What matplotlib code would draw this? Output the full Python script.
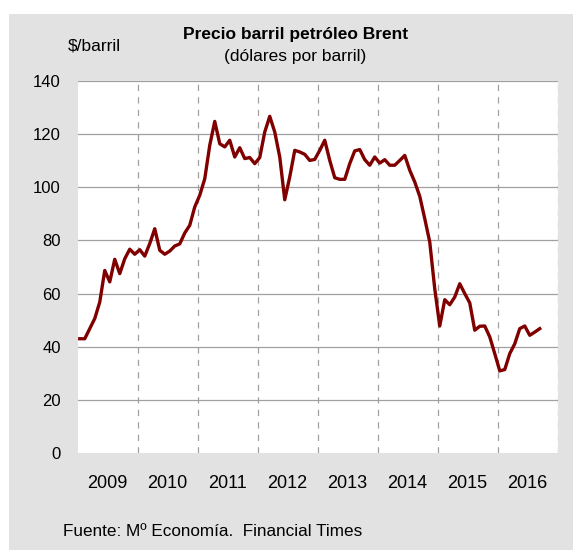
import matplotlib.pyplot as plt
from matplotlib.patches import Rectangle
from matplotlib.ticker import FixedLocator

plt.rcParams['font.family'] = ['Liberation Sans', 'DejaVu Sans']

# monthly Brent price, Jan 2009 .. Sep 2016
brent_2009 = [43.0, 43.0, 46.8, 50.6, 56.8, 68.7, 64.4, 72.9, 67.5, 73.1, 76.7, 74.8]
brent_2010 = [76.5, 74.1, 78.8, 84.4, 76.3, 74.8, 76.0, 77.9, 78.7, 82.8, 85.7, 92.6]
brent_2011 = [97.0, 103.2, 115.8, 124.8, 116.4, 115.2, 117.7, 111.4, 114.9, 110.8, 111.2, 108.9]
brent_2012 = [111.2, 120.8, 126.7, 120.8, 111.4, 95.3, 103.9, 113.9, 113.3, 112.4, 110.1, 110.5]
brent_2013 = [113.9, 117.7, 110.1, 103.6, 103.0, 103.0, 108.9, 113.7, 114.2, 110.4, 108.3, 111.4]
brent_2014 = [109.1, 110.4, 108.3, 108.3, 110.1, 112.0, 106.4, 102.0, 96.6, 88.2, 79.4, 61.8]
brent_2015 = [47.8, 57.7, 55.8, 58.7, 63.7, 60.0, 56.5, 46.2, 47.7, 47.8, 43.7, 37.4]
brent_2016 = [30.9, 31.4, 37.4, 41.1, 46.8, 47.8, 44.3, 45.5, 46.8]

years = [2009, 2010, 2011, 2012, 2013, 2014, 2015, 2016]
year_labels = ['2009', '2010', '2011', '2012', '2013', '2014', '2015', '2016']

prices = (brent_2009 + brent_2010 + brent_2011 + brent_2012 +
          brent_2013 + brent_2014 + brent_2015 + brent_2016)
dates = [2009 + (i + 0.45) / 12 for i in range(len(prices))]

fig = plt.figure(figsize=(5.73, 5.5), dpi=100)
fig.patch.set_facecolor('white')
# grey panel behind everything
fig.patches.append(Rectangle((9 / 573, 0), 1, 1 - 14 / 550, transform=fig.transFigure,
                             facecolor='#e2e2e2', edgecolor='none', zorder=-1))

ax = fig.add_axes([77.5 / 573, 1 - 453 / 550, 480 / 573, 372 / 550])
ax.set_facecolor('white')
ax.plot(dates, prices, color='#800000', lw=2.4, zorder=3)

ax.set_xlim(2009, 2017)
ax.set_ylim(0, 140)
ax.set_yticks(range(0, 141, 20))
for v in range(20, 141, 20):
    ax.axhline(v, color='#a0a0a0', lw=0.9, zorder=1)
for y in years[1:] + [2017]:
    ax.axvline(y, color='#a0a0a0', lw=0.9, ls=(0, (5, 5)), zorder=1)

ax.xaxis.set_major_locator(FixedLocator([y + 0.5 for y in years]))
ax.set_xticklabels(year_labels)
ax.tick_params(axis='x', length=0, pad=16, labelsize=13)
ax.tick_params(axis='y', length=0, pad=12, labelsize=12)
for s in ax.spines.values():
    s.set_visible(False)

fig.text(296 / 573, 1 - 34 / 550, 'Precio barril petróleo Brent', ha='center', va='center',
         fontsize=12.5, fontweight='bold')
fig.text(295 / 573, 1 - 57 / 550, '(dólares por barril)', ha='center', va='center',
         fontsize=12.5)
fig.text(68 / 573, 1 - 46 / 550, '$/barril', ha='left', va='center', fontsize=12.5)
fig.text(63 / 573, 1 - 531 / 550, 'Fuente: Mº Economía.  Financial Times', ha='left',
         va='center', fontsize=12.3)

fig.savefig('out.png', dpi=100, facecolor=fig.get_facecolor())
